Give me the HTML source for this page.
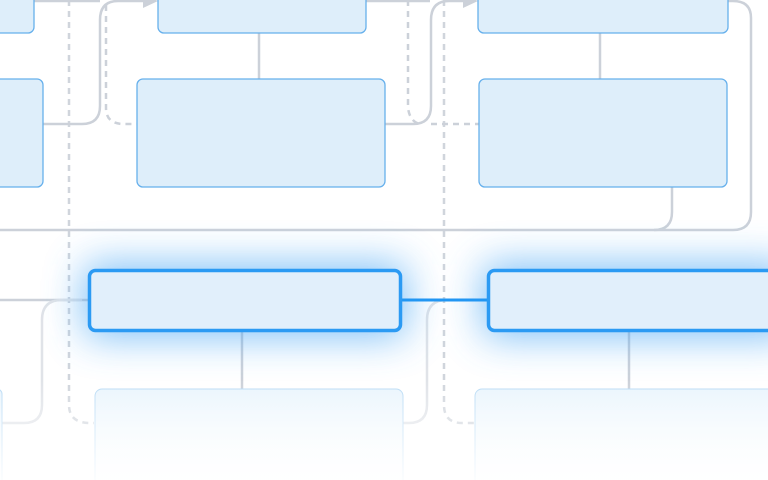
<!DOCTYPE html>
<html><head><meta charset="utf-8"><style>
html,body{margin:0;padding:0;background:#fff;width:768px;height:480px;overflow:hidden}
svg{display:block}
</style></head><body>
<svg width="768" height="480" viewBox="0 0 768 480" xmlns="http://www.w3.org/2000/svg">
<defs>
<filter id="glow" x="-40%" y="-150%" width="180%" height="400%"><feGaussianBlur stdDeviation="20"/></filter>
<linearGradient id="fadeBox" x1="0" y1="0" x2="0" y2="1">
<stop offset="0" stop-color="#eaf5fd"/><stop offset="1" stop-color="#ffffff"/></linearGradient>
<linearGradient id="fade" x1="0" y1="0" x2="0" y2="1">
<stop offset="0" stop-color="#fff" stop-opacity="0"/><stop offset="1" stop-color="#fff" stop-opacity="0.9"/></linearGradient>
</defs>
<g fill="none" stroke="#ccd1d9" stroke-width="2.5">
<path d="M69 0 V405 Q69 423 90 423 H94" stroke-dasharray="6 5" stroke="#d0d5dc"/>
<path d="M444 0 V405 Q444 423 462 423 H474" stroke-dasharray="6 5" stroke="#d0d5dc"/>
<path d="M106 5 V108 Q106 124 124 124 H137" stroke-dasharray="6 5"/>
<path d="M408 0 V108 Q410 122 420 124" stroke-dasharray="6 5"/>
<path d="M431 124 H479" stroke-dasharray="6 5"/>
<path d="M43 124 H82 Q100 124 100 106 V20 Q100 1 118 1 H148"/>
<path d="M34 1 H100"/>
<path d="M385 124 H413 Q431 124 431 106 V20 Q431 1 449 1 H468"/>
<path d="M366 1 H430"/>
<path d="M259 33 V79"/><path d="M600 33 V79"/>
<path d="M0 230 H733 Q751 230 751 212 V18 Q751 1 733 1 H728"/>
<path d="M672 187 V212 Q672 230 654 230"/>
<path d="M0 300 H89"/>
<path d="M82 300 H62 Q42 300 42 320 V405 Q42 423 24 423 H0" stroke="#e0e3e8"/>
<path d="M470 300 H447 Q427 300 427 320 V405 Q427 423 409 423 H403" stroke="#e0e3e8"/>
<path d="M242 331 V389"/><path d="M629 331 V389"/>
</g>
<path d="M143 -6 L158 1 L143 8 Z" fill="#ccd1d9"/>
<path d="M463 -6 L478 1 L463 8 Z" fill="#ccd1d9"/>
<g fill="#deeefa" stroke="#66b0ec" stroke-width="1.3">
<rect x="-20" y="-10" width="54" height="43" rx="6"/>
<rect x="158" y="-10" width="208" height="43" rx="6"/>
<rect x="478" y="-10" width="250" height="43" rx="6"/>
<rect x="-20" y="79" width="63" height="108" rx="6"/>
<rect x="137" y="79" width="248" height="108" rx="6"/>
<rect x="479" y="79" width="248" height="108" rx="6"/>
</g>
<g filter="url(#glow)" fill="#4aa6f5" opacity="0.7">
<rect x="84" y="264" width="322" height="73" rx="8"/>
<rect x="483" y="264" width="310" height="73" rx="8"/>
</g>
<path d="M401 300 H488" stroke="#2196f3" stroke-width="3"/>
<g fill="#e1effb" stroke="#2b9af3" stroke-width="3.5">
<rect x="89.5" y="270.5" width="311" height="60" rx="6"/>
<rect x="488.5" y="270.5" width="300" height="60" rx="6"/>
</g>
<g fill="url(#fadeBox)" stroke="#b9dbf5" stroke-width="1">
<rect x="95" y="389" width="308" height="110" rx="7"/>
<rect x="475" y="389" width="310" height="110" rx="7"/>
<rect x="-20" y="389" width="22" height="110" rx="5"/>
</g>
<rect x="0" y="380" width="768" height="100" fill="url(#fade)"/>
</svg>
</body></html>
